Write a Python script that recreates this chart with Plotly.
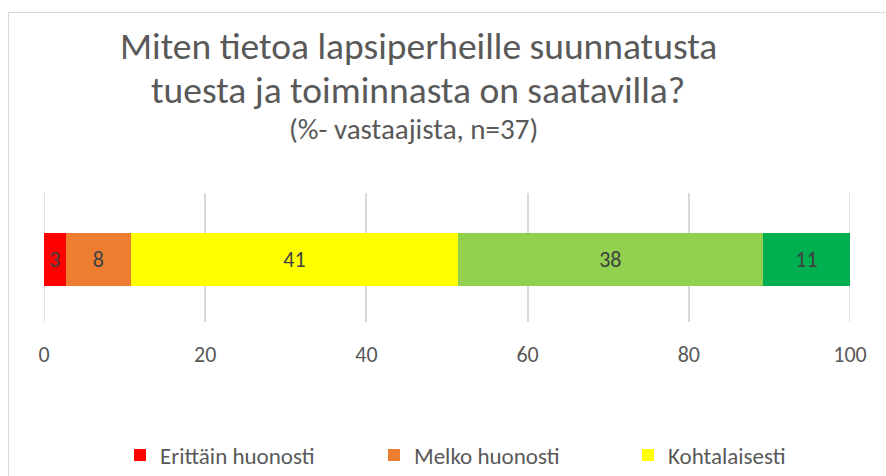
import plotly.graph_objects as go

categories = [""]
series_names = ["Erittäin huonosti", "Melko huonosti", "Kohtalaisesti", "Melko hyvin", "Erittäin hyvin"]
series_values = [2.70, 8.11, 40.54, 37.84, 10.81]
series_colors = ["#FF0000", "#ED7D31", "#FFFF00", "#92D050", "#00B050"]
legend_visible = [True, True, True, False, False]
tick_values = [0, 20, 40, 60, 80, 100]
tick_labels = ["0", "20", "40", "60", "80", "100"]

FONT = "Carlito, Lato, 'Liberation Sans', sans-serif"
TXT = "#595959"
GRID = "#D9D9D9"

fig = go.Figure()
for name, val, col, leg in zip(series_names, series_values, series_colors, legend_visible):
    fig.add_trace(go.Bar(
        y=categories, x=[val], name=name, orientation="h",
        marker=dict(color=col, line=dict(width=0)),
        text=[val], texttemplate="%{x:.0f}", textposition="inside",
        insidetextanchor="middle",
        textfont=dict(family=FONT, size=22, color="#404040"),
        showlegend=leg, hoverinfo="skip",
    ))

W, H = 886, 476
L, R, T, B = 44, 36, 193, 154
pw, ph = W - L - R, H - T - B

def px_x(p):
    return (p - L) / pw

def px_y(p):
    return (H - B - p) / ph

# edge gridlines (plotly omits gridlines that sit exactly on the range ends)
edge_grid = [dict(type="line", xref="x", yref="paper",
                  x0=v, x1=v, y0=0, y1=1,
                  line=dict(color=GRID, width=1.5), layer="below")
             for v in (tick_values[0], tick_values[-1])]

fig.update_layout(
    width=W, height=H,
    margin=dict(l=L, r=R, t=T, b=B, pad=0, autoexpand=False),
    barmode="stack", bargap=0.589,
    plot_bgcolor="white", paper_bgcolor="white",
    font=dict(family=FONT, color=TXT),
    xaxis=dict(range=[tick_values[0], tick_values[-1]], tickvals=tick_values, ticktext=tick_labels,
               showgrid=True, gridcolor=GRID, gridwidth=1.5,
               zeroline=False, showline=False, ticks="",
               tickfont=dict(family=FONT, size=22, color=TXT),
               ticklabelstandoff=17, fixedrange=True, automargin=False),
    yaxis=dict(range=[-0.487, 0.513], showticklabels=False, showgrid=False,
               zeroline=False, showline=False, fixedrange=True, automargin=False),
    showlegend=True,
    legend=dict(orientation="h", xref="container", yref="container",
                x=120 / W, xanchor="left",
                y=(H - 455) / H, yanchor="middle",
                entrywidth=209, entrywidthmode="pixels",
                font=dict(family=FONT, size=23, color=TXT),
                traceorder="normal", bgcolor="rgba(0,0,0,0)"),
    shapes=[dict(type="rect", xref="paper", yref="paper",
                 x0=px_x(8.5), x1=1.3, y0=-3, y1=px_y(12.5),
                 line=dict(color=GRID, width=1), layer="below")] + edge_grid,
    annotations=[
        dict(text="Miten tietoa lapsiperheille suunnatusta", x=px_x(418), y=px_y(46),
             xref="paper", yref="paper", showarrow=False, xanchor="center", yanchor="middle",
             font=dict(family=FONT, size=37.5, color=TXT)),
        dict(text="tuesta ja toiminnasta on saatavilla?", x=px_x(418), y=px_y(90),
             xref="paper", yref="paper", showarrow=False, xanchor="center", yanchor="middle",
             font=dict(family=FONT, size=37.5, color=TXT)),
        dict(text="(%- vastaajista, n=37)", x=px_x(413), y=px_y(129),
             xref="paper", yref="paper", showarrow=False, xanchor="center", yanchor="middle",
             font=dict(family=FONT, size=29, color=TXT)),
    ],
)

fig.write_html("out.html", config={"displayModeBar": False},
               post_script="document.body.style.margin='0px';document.body.style.overflow='hidden';")
